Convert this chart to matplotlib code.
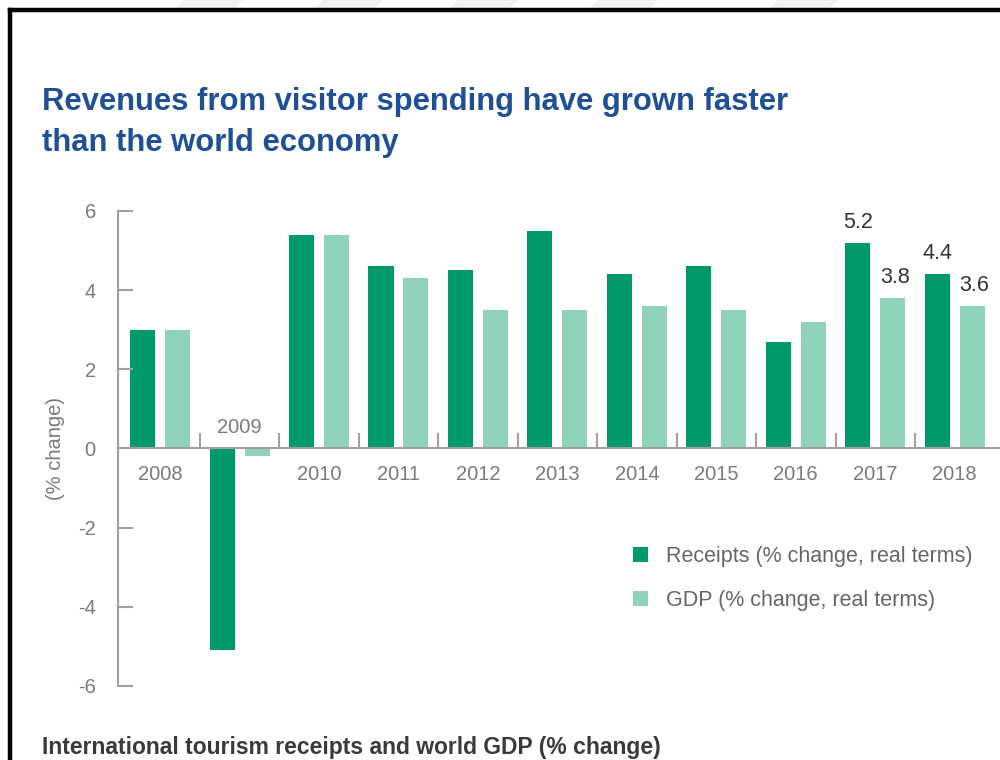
import numpy as np
import matplotlib
matplotlib.use('Agg')
import matplotlib.pyplot as plt
from matplotlib.lines import Line2D
from matplotlib.patches import Polygon

# data
YEARS = ['2008', '2009', '2010', '2011', '2012', '2013',
         '2014', '2015', '2016', '2017', '2018']
RECEIPTS = [3.0, -5.1, 5.4, 4.6, 4.5, 5.5, 4.4, 4.6, 2.7, 5.2, 4.4]
GDP = [3.0, -0.2, 5.4, 4.3, 3.5, 3.5, 3.6, 3.5, 3.2, 3.8, 3.6]
LABELLED = ['2017', '2018']

DARK = '#00996a'
LIGHT = '#8fd3bb'
GREY = '#7a7a7a'
AXIS = '#a0a0a0'

plt.rcParams['font.family'] = ['Liberation Sans', 'DejaVu Sans']

fig = plt.figure(figsize=(10, 7.6), dpi=100)
ax = fig.add_axes([0.118, 0.0974, 0.882, 0.625])

x = np.arange(len(YEARS))
w = 0.315
off = 0.22
ax.bar(x - off, RECEIPTS, w, color=DARK, label='Receipts (% change, real terms)')
ax.bar(x + off, GDP, w, color=LIGHT, label='GDP (% change, real terms)')

# value labels for the last two years
for i, yr in enumerate(YEARS):
    if yr in LABELLED:
        ax.text(x[i] - off, RECEIPTS[i] + 0.25, f'{RECEIPTS[i]:.1f}',
                ha='center', va='bottom', fontsize=15.5, color='#333333')
        ax.text(x[i] + off + 0.03, GDP[i] + 0.25, f'{GDP[i]:.1f}',
                ha='center', va='bottom', fontsize=15.5, color='#333333')

ax.set_xlim(-0.53, 10.57)
ax.set_ylim(-6, 6)

for s in ['top', 'right']:
    ax.spines[s].set_visible(False)
ax.spines['bottom'].set_position(('data', 0))
ax.spines['bottom'].set_color(AXIS)
ax.spines['bottom'].set_linewidth(1.5)
ax.spines['left'].set_color(AXIS)
ax.spines['left'].set_linewidth(1.5)
ax.spines['left'].set_bounds(-6, 6)

ax.set_yticks([-6, -4, -2, 0, 2, 4, 6])
ax.set_yticklabels(['-6', '-4', '-2', '0', '2', '4', '6'])
ax.tick_params(axis='y', direction='in', length=11, width=1.5,
               color=AXIS, labelcolor=GREY, labelsize=14.5, pad=16)

ax.set_xticks(x)
ax.set_xticklabels(['' if yr == '2009' else yr for yr in YEARS])
ax.set_xticks(x[:-1] + 0.5, minor=True)
ax.tick_params(axis='x', which='major', length=0, labelcolor=GREY,
               labelsize=14.5, pad=12)
ax.tick_params(axis='x', which='minor', direction='in', length=11,
               width=1.5, color=AXIS)
ax.text(1, 0.3, '2009', ha='center', va='bottom', fontsize=14.5, color=GREY)

ax.set_ylabel('(% change)', fontsize=14.5, color=GREY, labelpad=9)

ax.legend(loc='upper left', bbox_to_anchor=(0.562, 0.335), frameon=False,
          fontsize=15.5, handlelength=0.7, handleheight=0.7,
          handletextpad=0.85, labelspacing=1.05, labelcolor='#666666')

fig.text(0.042, 0.839, 'Revenues from visitor spending have grown faster\nthan the world economy',
         fontweight='bold', fontsize=22.3, color='#1f5096',
         va='center', ha='left', linespacing=1.45)

fig.text(0.042, 0.016, 'International tourism receipts and world GDP (% change)',
         fontsize=16.5, fontweight='bold', color='#3a3a3a', ha='left', va='center')

# faint diagonal stripes above the frame
for x0 in [175, 315, 450, 590, 770]:
    px = np.array([x0, x0 + 60, x0 + 68, x0 + 8]) / 1000
    py = 1 - np.array([8, 8, 0, 0]) / 760
    fig.add_artist(Polygon(np.column_stack([px, py]), closed=True,
                           transform=fig.transFigure, color='#f1f1f1', lw=0))

# frame lines along top and left edge
fig.add_artist(Line2D([0.010, 1.0], [0.9868, 0.9868], transform=fig.transFigure,
                      color='black', lw=3.2))
fig.add_artist(Line2D([0.010, 0.010], [0.0, 0.9868], transform=fig.transFigure,
                      color='black', lw=3.2))

fig.savefig('out.png', dpi=100)
